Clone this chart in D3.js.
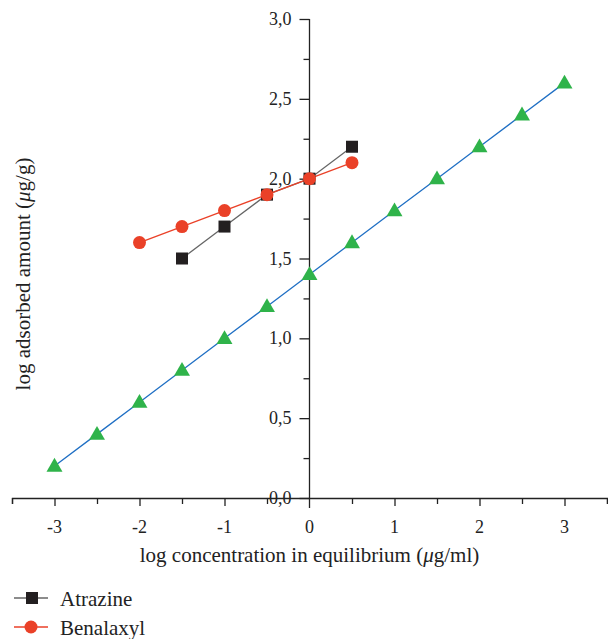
<!DOCTYPE html>
<html><head><meta charset="utf-8">
<script src="https://cdn.jsdelivr.net/npm/d3@7"></script>
<style>body{margin:0;background:#fff}svg{display:block}text{font-family:"Liberation Serif","DejaVu Serif",serif;fill:#222}</style>
</head><body><svg id="c" width="608" height="639"></svg>
<script>
const xTicks = [-3,-2,-1,0,1,2,3];
const yTicks = [0.5,1.0,1.5,2.0,2.5,3.0];
const atrazineX = [-1.5,-1,-0.5,0,0.5];
const atrazineY = [1.5,1.7,1.9,2.0,2.2];
const benalaxylX = [-2,-1.5,-1,-0.5,0,0.5];
const benalaxylY = [1.6,1.7,1.8,1.9,2.0,2.1];
const thirdX = [-3,-2.5,-2,-1.5,-1,-0.5,0,0.5,1,1.5,2,2.5,3];
const thirdY = [0.2,0.4,0.6,0.8,1.0,1.2,1.4,1.6,1.8,2.0,2.2,2.4,2.6];
const xTitle = "log concentration in equilibrium (";
const yTitle = "log adsorbed amount (";

const TS = 18, LS = 21;
const svg = d3.select("#c");
const x = d3.scaleLinear().domain([-3.5,3.5]).range([12,607]);
const y = d3.scaleLinear().domain([0,3]).range([498,19]);
const fmt = d => d.toFixed(1).replace(".", ",");

// x axis
const xg = svg.append("g").attr("transform",`translate(0,${y(0)})`);
xg.call(d3.axisBottom(x).tickValues(d3.range(-3.5,3.51,0.5)).tickSize(6).tickFormat(""));
xg.select(".domain").attr("stroke","#222").attr("stroke-width",1.3);
xg.selectAll(".tick line").attr("stroke","#222").attr("stroke-width",1.3)
  .attr("y2", d => (Math.abs(d - Math.round(d))<1e-9 && d!==0) ? 8 : 6);
xg.selectAll(".tick").filter(d=>d===0).remove();
xTicks.forEach(t=>{
  svg.append("text").attr("x",x(t)).attr("y",y(0)+35).attr("text-anchor","middle")
    .attr("font-size",TS).text(String(t));
});

// y axis
const yg = svg.append("g").attr("transform",`translate(${x(0)},0)`);
yg.call(d3.axisLeft(y).tickValues(d3.range(0,3.01,0.25)).tickSize(6).tickFormat("").tickSizeOuter(0));
yg.select(".domain").remove();
yg.append("line").attr("y1",y(3)).attr("y2",y(0)+10).attr("stroke","#222").attr("stroke-width",1.3);
yg.selectAll(".tick line").attr("stroke","#222").attr("stroke-width",1.3)
  .attr("x2", d => (Math.abs(d*2 - Math.round(d*2))<1e-9) ? -10 : -6);
[0].concat(yTicks).forEach(t=>{
  svg.append("text").attr("x",x(0)-18).attr("y",y(t)+6).attr("text-anchor","end")
    .attr("font-size",TS).text(fmt(t));
});

// titles
const xt = svg.append("text").attr("x",x(0)).attr("y",562).attr("text-anchor","middle").attr("font-size",LS);
xt.append("tspan").text(xTitle);
xt.append("tspan").attr("font-style","italic").text("μ");
xt.append("tspan").text("g/ml)");
const yt = svg.append("text").attr("transform",`translate(30,274) rotate(-90)`).attr("text-anchor","middle").attr("font-size",LS);
yt.append("tspan").text(yTitle);
yt.append("tspan").attr("font-style","italic").text("μ");
yt.append("tspan").text("g/g)");

const line = d3.line().x(d=>x(d[0])).y(d=>y(d[1]));
const third = thirdX.map((v,i)=>[v,thirdY[i]]);
const atr = atrazineX.map((v,i)=>[v,atrazineY[i]]);
const ben = benalaxylX.map((v,i)=>[v,benalaxylY[i]]);

svg.append("path").attr("d",line(third)).attr("fill","none").attr("stroke","#1f6fc4").attr("stroke-width",1.3);
svg.append("path").attr("d",line(atr)).attr("fill","none").attr("stroke","#666").attr("stroke-width",1.3);
svg.append("path").attr("d",line(ben)).attr("fill","none").attr("stroke","#ea4128").attr("stroke-width",1.3);

const tri = d3.symbol().type(d3.symbolTriangle).size(110);
svg.selectAll(".tri").data(third).join("path").attr("d",tri)
  .attr("transform",d=>`translate(${x(d[0])},${y(d[1])+1})`).attr("fill","#2fb34a");
svg.selectAll(".sq").data(atr).join("rect")
  .attr("x",d=>x(d[0])-6).attr("y",d=>y(d[1])-6).attr("width",12).attr("height",12).attr("fill","#231f20");
svg.selectAll(".ci").data(ben).join("circle")
  .attr("cx",d=>x(d[0])).attr("cy",d=>y(d[1])).attr("r",6.5).attr("fill","#ea4128");

// legend
const leg = [{name:"Atrazine",c:"#231f20",lc:"#666",s:"sq"},{name:"Benalaxyl",c:"#ea4128",lc:"#ea4128",s:"ci"}];
leg.forEach((l,i)=>{
  const yy = 598 + i*29;
  svg.append("line").attr("x1",14).attr("x2",48).attr("y1",yy).attr("y2",yy).attr("stroke",l.lc).attr("stroke-width",1.3);
  if(l.s==="sq") svg.append("rect").attr("x",26).attr("y",yy-6).attr("width",12).attr("height",12).attr("fill",l.c);
  else svg.append("circle").attr("cx",31).attr("cy",yy).attr("r",6.5).attr("fill",l.c);
  svg.append("text").attr("x",60).attr("y",yy+8).attr("font-size",LS).text(l.name);
});
</script></body></html>
